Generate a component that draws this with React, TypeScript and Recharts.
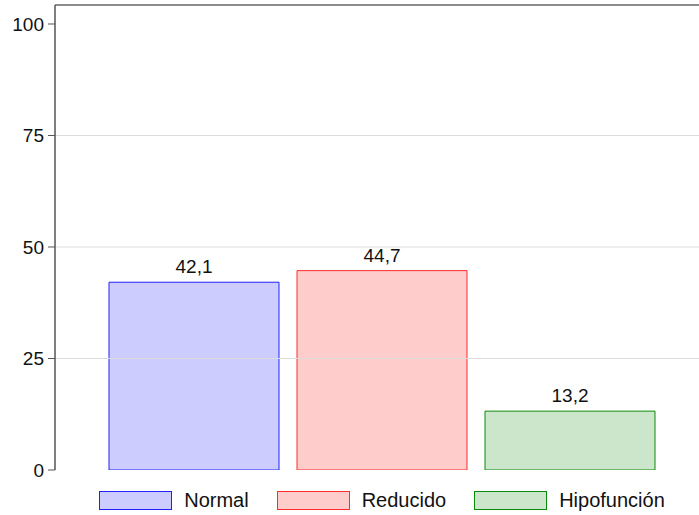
import React from 'react';
import { BarChart, Bar, XAxis, YAxis, ReferenceLine, Legend, LabelList } from 'recharts';

const categories = ['Normal', 'Reducido', 'Hipofunción'];
const values = [42.1, 44.7, 13.2];
const yTicks = [0, 25, 50, 75, 100];
const gridValues = [25, 50, 75];

const styles: Record<string, { fill: string; stroke: string }> = {
  Normal: { fill: '#ccccff', stroke: '#2020ff' },
  Reducido: { fill: '#ffcccc', stroke: '#ff2a2a' },
  'Hipofunción': { fill: '#cce6cc', stroke: '#0a8a0a' },
};

const row: Record<string, any> = { name: '' };
categories.forEach((c, i) => { row[c] = values[i]; });
const data = [row];

const FONT = '"Liberation Sans", Arial, sans-serif';
const fmt = (v: any) => (typeof v === 'number' ? v.toFixed(1).replace('.', ',') : v);
const Y_MAX = 104.26;

const LegendContent = () => (
  <div style={{ height: 45, display: 'flex', justifyContent: 'center', alignItems: 'flex-start', paddingLeft: 65, boxSizing: 'border-box', fontFamily: FONT, fontSize: 20, color: '#111' }}>
    {categories.map((c, i) => (
      <div key={c} style={{ display: 'flex', alignItems: 'center', marginLeft: i === 0 ? 0 : 28, marginTop: 20 }}>
        <div style={{ width: 71, height: 17, background: styles[c].fill, border: `1px solid ${styles[c].stroke}` }} />
        <span style={{ marginLeft: 12, lineHeight: '20px' }}>{c}</span>
      </div>
    ))}
  </div>
);

export default function App() {
  return (
    <div style={{ position: 'absolute', left: 0, top: 0, width: 699, height: 515, background: '#fff' }}>
      <BarChart width={699} height={515} data={data} margin={{ top: 5, right: 0, left: 0, bottom: 0 }} barGap={18}>
        {gridValues.map((g) => (
          <ReferenceLine key={g} y={g} stroke="#dcdcdc" strokeWidth={1} />
        ))}
        <ReferenceLine y={Y_MAX} stroke="#666" strokeWidth={1.5} />
        <XAxis dataKey="name" tick={false} tickLine={false} height={0} axisLine={{ stroke: '#555', strokeWidth: 1.5 }} padding={{ left: 10, right: 0 }} />
        <YAxis
          width={55}
          domain={[0, Y_MAX]}
          ticks={yTicks}
          allowDataOverflow
          tickSize={7}
          tickMargin={4}
          axisLine={{ stroke: '#555', strokeWidth: 1.5 }}
          tickLine={{ stroke: '#555', strokeWidth: 1 }}
          tick={{ fill: '#111', fontSize: 19, fontFamily: FONT }}
        />
        <Legend verticalAlign="bottom" content={<LegendContent />} wrapperStyle={{ left: 0, width: 699 }} />
        {categories.map((c) => (
          <Bar key={c} dataKey={c} barSize={170} fill={styles[c].fill} stroke={styles[c].stroke} strokeWidth={1} isAnimationActive={false}>
            <LabelList dataKey={c} position="top" offset={9} formatter={fmt} style={{ fill: '#111', fontSize: 19, fontFamily: FONT }} />
          </Bar>
        ))}
      </BarChart>
    </div>
  );
}
